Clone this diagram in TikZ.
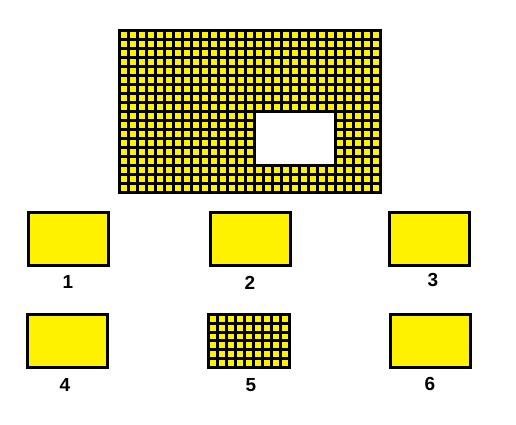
\documentclass[tikz,border=0pt]{standalone}
\usepackage{fontspec}
\setmainfont{Liberation Sans}
\usetikzlibrary{positioning}
\definecolor{tileyellow}{RGB}{255,242,0}

\tikzset{
  piece/.style={draw, line width=3bp, fill=tileyellow, minimum width=80bp, minimum height=53bp, inner sep=0pt},
  num/.style={font=\fontsize{19}{19}\selectfont\bfseries},
  gridline/.style={line width=3bp},
}

\begin{document}
\begin{tikzpicture}[x=1bp,y=-1bp]
\useasboundingbox (0,0) rectangle (516,424);

% big sheet with the hole
\fill[tileyellow] (118,29) rectangle (382,194);
\foreach \i in {0,...,29}
  \draw[gridline] ({119.5+\i*9},30.5) -- ({119.5+\i*9},192.5);
\foreach \j in {0,...,18}
  \draw[gridline] (119.5,{30.5+\j*9}) -- (380.5,{30.5+\j*9});
\draw[gridline] (119.5,30.5) rectangle (380.5,192.5);
\fill[white] (256,113) rectangle (334,164);

% pieces
\node[piece] (p1) at (68.5,239) {};
\node[piece] (p2) at (250,239) {};
\node[piece] (p3) at (429,239) {};
\node[piece] (p4) at (67.5,340.5) {};
\node[piece, minimum width=81bp, minimum height=52.5bp] (p5) at (249,340.75) {};
\node[piece] (p6) at (430,341) {};

\foreach \i in {1,...,8}
  \draw[gridline] ({208.5+\i*9},314.5) -- ({208.5+\i*9},367);
\foreach \j in {1,...,5}
  \draw[gridline] (208.5,{314.5+\j*8.75}) -- (289.5,{314.5+\j*8.75});

% labels
\node[num] (l1) at (68,282) {1};
\node[num] (l2) at (250,283) {2};
\node[num] (l3) at (433,280) {3};
\node[num] (l4) at (65,385) {4};
\node[num] (l5) at (251,385) {5};
\node[num] (l6) at (430,384) {6};

\end{tikzpicture}
\end{document}
